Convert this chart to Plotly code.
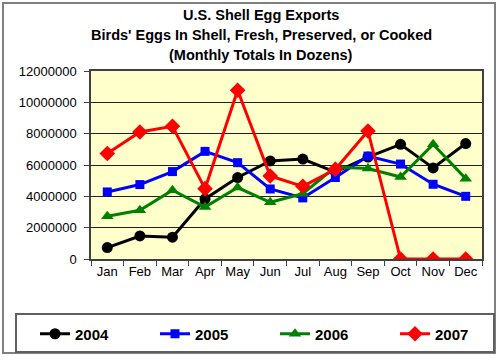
import plotly.graph_objects as go

months = ["Jan", "Feb", "Mar", "Apr", "May", "Jun", "Jul", "Aug", "Sep", "Oct", "Nov", "Dec"]
y2004 = [730000, 1470000, 1390000, 3830000, 5200000, 6260000, 6380000, 5550000, 6510000, 7320000, 5810000, 7370000]
y2005 = [4280000, 4750000, 5580000, 6870000, 6150000, 4470000, 3900000, 5200000, 6570000, 6060000, 4770000, 4000000]
y2006 = [2730000, 3110000, 4390000, 3320000, 4560000, 3620000, 4170000, 5870000, 5770000, 5230000, 7320000, 5130000]
y2007 = [6730000, 8110000, 8470000, 4490000, 10770000, 5300000, 4640000, 5730000, 8170000, 0, 0, 0]
series_names = ["2004", "2005", "2006", "2007"]
title_lines = ["U.S. Shell Egg Exports",
               "Birds' Eggs In Shell, Fresh, Preserved, or Cooked",
               "(Monthly Totals In Dozens)"]

W, H = 500, 361
L, R, T, B = 91, 18, 71, 102
pw, ph = W - L - R, H - T - B

def px(x):
    return (x - L) / pw

def py(y):
    return (H - B - y) / ph

styles = [
    dict(color="black", symbol="circle", size=11),
    dict(color="blue", symbol="square", size=9),
    dict(color="green", symbol="triangle-up", size=11),
    dict(color="red", symbol="diamond", size=12),
]

fig = go.Figure()
for name, ys, st in zip(series_names, [y2004, y2005, y2006, y2007], styles):
    fig.add_trace(go.Scatter(
        x=months, y=ys, name=name, mode="lines+markers",
        line=dict(color=st["color"], width=3),
        marker=dict(color=st["color"], symbol=st["symbol"], size=st["size"]),
    ))

annotations = []
for i, (t, yy) in enumerate(zip(title_lines, [15, 35, 55])):
    annotations.append(dict(
        text="<b>%s</b>" % t, x=px(261), y=py(yy), xref="paper", yref="paper",
        xanchor="center", yanchor="middle", showarrow=False,
        font=dict(family="Arial", size=14.5, color="black"),
    ))

shapes = [
    dict(type="rect", xref="paper", yref="paper",
         x0=px(3), x1=px(495), y0=py(353), y1=py(3),
         line=dict(color="#808080", width=2), layer="below"),
    dict(type="rect", xref="paper", yref="paper",
         x0=px(16), x1=px(494), y0=py(352), y1=py(314),
         line=dict(color="#606060", width=2), layer="below"),
]

fig.update_layout(
    width=W, height=H,
    margin=dict(l=L, r=R, t=T, b=B, autoexpand=False),
    paper_bgcolor="white",
    plot_bgcolor="#FFFFCC",
    font=dict(family="Arial", size=13, color="black"),
    annotations=annotations,
    shapes=shapes,
    showlegend=True,
    legend=dict(
        orientation="h", x=px(35), y=py(334), xanchor="left", yanchor="middle",
        entrywidth=75, entrywidthmode="pixels",
        font=dict(family="Arial", size=15, color="black", weight="bold"),
        bgcolor="rgba(0,0,0,0)", borderwidth=0,
    ),
    xaxis=dict(
        type="category", range=[-0.5, 11.5], tickangle=0,
        showline=True, linecolor="#404040", linewidth=1.5, mirror=True,
        ticks="outside", tickson="boundaries", ticklen=5, tickcolor="#404040",
        showgrid=False, tickfont=dict(size=13),
    ),
    yaxis=dict(
        range=[0, 12000000], dtick=2000000, tickformat="d",
        showline=True, linecolor="#404040", linewidth=1.5, mirror=True,
        ticks="outside", ticklen=5, tickcolor="#404040", ticklabelstandoff=5,
        showgrid=True, gridcolor="#202020", gridwidth=1,
        zeroline=False, tickfont=dict(size=13),
    ),
)

fig.write_html("out.html", config={"displayModeBar": False},
               post_script="document.body.style.margin='0px';document.body.style.overflow='hidden';")
